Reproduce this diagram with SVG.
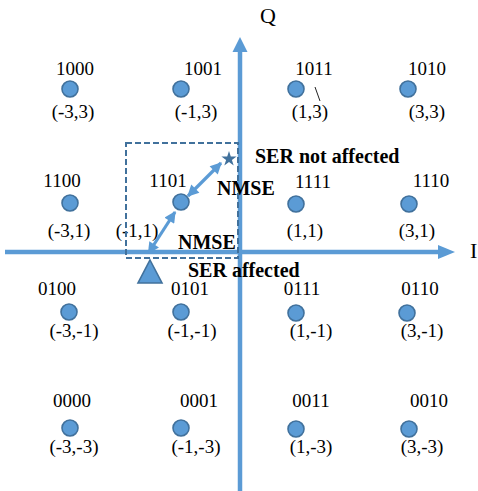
<svg xmlns="http://www.w3.org/2000/svg" width="478" height="491" viewBox="0 0 478 491" font-family="'Liberation Serif', 'Times New Roman', serif">
<style>
.pt{fill:#5b9bd5;stroke:#41719c;stroke-width:1.6}
.t{font-family:"Liberation Serif","Times New Roman",serif;font-size:19px;fill:#000;text-anchor:middle}
.b{font-family:"Liberation Serif","Times New Roman",serif;font-size:20px;font-weight:bold;fill:#000}
.ax{stroke:#5b9bd5;stroke-width:4.5;fill:none}
.con{stroke:#5b9bd5;stroke-width:3.2;fill:none;marker-start:url(#ah);marker-end:url(#ah)}
</style>
<defs>
<marker id="ah" viewBox="0 0 10 10" refX="9" refY="5" markerWidth="4" markerHeight="3.6" orient="auto-start-reverse" markerUnits="strokeWidth">
<path d="M0,0 L10,5 L0,10 Z" fill="#5b9bd5"/>
</marker>
</defs>
<rect width="478" height="491" fill="#fff"/>
<g id="axes">
<line class="ax" x1="5" y1="252" x2="440" y2="252"/>
<polygon points="438,245 455,252 438,259" fill="#5b9bd5"/>
<line class="ax" x1="240" y1="491" x2="240" y2="50"/>
<polygon points="232.5,52 240,37 247.5,52" fill="#5b9bd5"/>
<text x="260" y="23" font-family="Liberation Serif,serif" font-size="22">Q</text>
<text x="470" y="258" font-family="Liberation Serif,serif" font-size="22">I</text>
</g>
<g id="p1000"><circle class="pt" cx="70" cy="89" r="8"/><text class="t" x="75" y="75">1000</text><text class="t" x="73" y="118">(-3,3)</text></g>
<g id="p1001"><circle class="pt" cx="181" cy="89" r="8"/><text class="t" x="203" y="75">1001</text><text class="t" x="196" y="118">(-1,3)</text></g>
<g id="p1011"><circle class="pt" cx="296" cy="89" r="8"/><text class="t" x="314" y="75">1011</text><text class="t" x="310" y="118">(1,3)</text></g>
<g id="p1010"><circle class="pt" cx="408" cy="89" r="8"/><text class="t" x="427" y="75">1010</text><text class="t" x="427" y="118">(3,3)</text></g>
<line x1="315" y1="87" x2="320" y2="101" stroke="#222" stroke-width="1"/>
<g id="p1100"><circle class="pt" cx="70" cy="203" r="8"/><text class="t" x="62" y="187">1100</text><text class="t" x="69" y="237">(-3,1)</text></g>
<g id="p1101"><circle class="pt" cx="181" cy="202" r="8"/><text class="t" x="168" y="187">1101</text><text class="t" x="137" y="237">(-1,1)</text></g>
<g id="p1111"><circle class="pt" cx="296" cy="204" r="8"/><text class="t" x="313" y="188">1111</text><text class="t" x="305" y="237">(1,1)</text></g>
<g id="p1110"><circle class="pt" cx="409" cy="204" r="8"/><text class="t" x="431" y="187">1110</text><text class="t" x="417" y="237">(3,1)</text></g>
<g id="p0100"><circle class="pt" cx="69" cy="312" r="8"/><text class="t" x="57" y="295">0100</text><text class="t" x="74" y="337">(-3,-1)</text></g>
<g id="p0101"><circle class="pt" cx="181" cy="312" r="8"/><text class="t" x="190" y="295">0101</text><text class="t" x="192" y="337">(-1,-1)</text></g>
<g id="p0111"><circle class="pt" cx="296" cy="313" r="8"/><text class="t" x="302" y="295">0111</text><text class="t" x="311" y="337">(1,-1)</text></g>
<g id="p0110"><circle class="pt" cx="407" cy="313" r="8"/><text class="t" x="420" y="295">0110</text><text class="t" x="422" y="337">(3,-1)</text></g>
<g id="p0000"><circle class="pt" cx="70" cy="428" r="8"/><text class="t" x="72" y="407">0000</text><text class="t" x="74" y="453">(-3,-3)</text></g>
<g id="p0001"><circle class="pt" cx="181" cy="428" r="8"/><text class="t" x="199" y="407">0001</text><text class="t" x="196" y="453">(-1,-3)</text></g>
<g id="p0011"><circle class="pt" cx="296" cy="429" r="8"/><text class="t" x="311" y="407">0011</text><text class="t" x="311" y="453">(1,-3)</text></g>
<g id="p0010"><circle class="pt" cx="409" cy="429" r="8"/><text class="t" x="429" y="407">0010</text><text class="t" x="422" y="453">(3,-3)</text></g>
<g id="region">
<rect x="126" y="143" width="112" height="115" fill="none" stroke="#41719c" stroke-width="2" stroke-dasharray="6,3"/>
</g>
<g id="star">
<polygon points="229,151 230.8,156.5 236.6,156.5 231.9,159.9 233.7,165.4 229,162 224.3,165.4 226.1,159.9 221.4,156.5 227.2,156.5" fill="#41719c"/>
</g>
<g id="triangle">
<polygon points="150,260 162,283 138,283" fill="#5b9bd5" stroke="#41719c" stroke-width="1.6"/>
</g>
<g id="connectors">
<line class="con" x1="188" y1="196" x2="221" y2="163"/>
<line class="con" x1="175" y1="212" x2="148.5" y2="253"/>
</g>
<text class="b" x="255" y="163">SER not affected</text>
<text class="b" x="217" y="195">NMSE</text>
<text class="b" x="178" y="249">NMSE</text>
<text class="b" x="188" y="277">SER affected</text>
</svg>
